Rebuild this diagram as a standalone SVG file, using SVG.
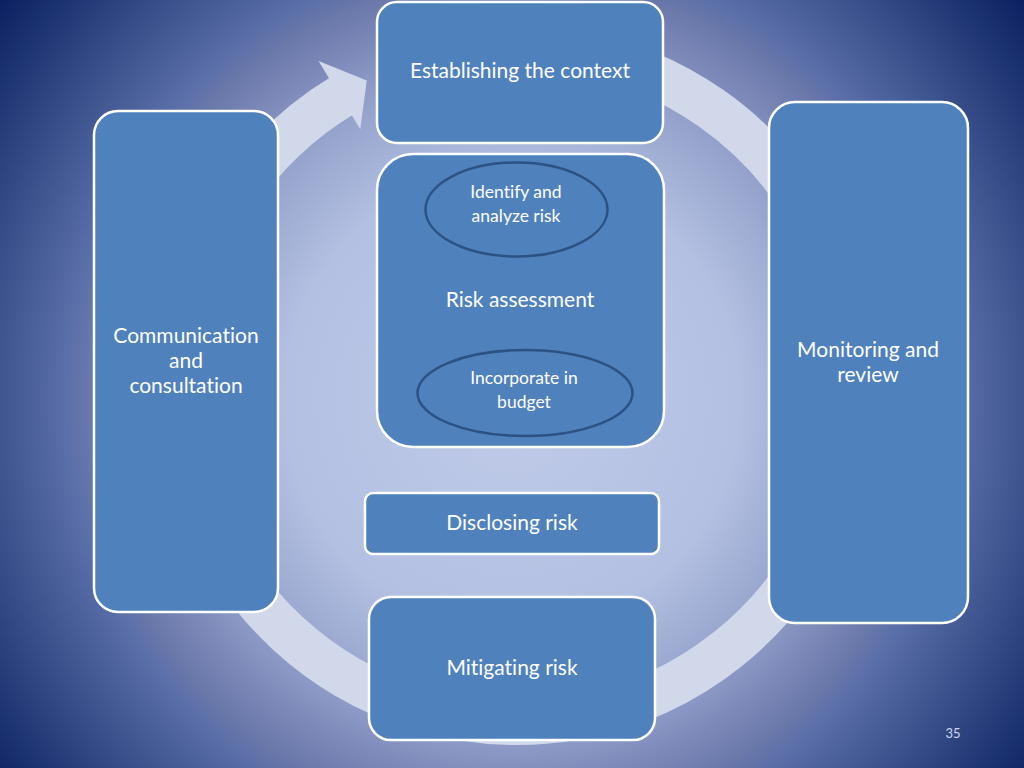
<svg xmlns="http://www.w3.org/2000/svg" width="1024" height="768" viewBox="0 0 1024 768">
  <defs>
    <radialGradient id="bg" gradientUnits="userSpaceOnUse" cx="512" cy="400" r="650">
      <stop offset="0" stop-color="#c0cbe8"/>
      <stop offset="0.35" stop-color="#b3c0e2"/>
      <stop offset="0.5" stop-color="#95a3cc"/>
      <stop offset="0.54" stop-color="#8b97c4"/>
      <stop offset="0.65" stop-color="#6a78aa"/>
      <stop offset="0.69" stop-color="#5a6ea8"/>
      <stop offset="0.79" stop-color="#3e5590"/>
      <stop offset="1" stop-color="#0a2060"/>
    </radialGradient>
    <style>
      .box { fill: #4f81bd; stroke: #ffffff; stroke-width: 2.5; }
      .oval { fill: #4f81bd; stroke: #2c5283; stroke-width: 2.5; }
      .lbl { font-family: Lato, "Liberation Sans", sans-serif; font-size: 21px; fill: #ffffff; text-anchor: middle; font-variant-ligatures: none; }
      .small { font-size: 17.5px; }
      .ring { fill: none; stroke: #d1d8ea; stroke-width: 44; }
      .head { fill: #d1d8ea; }
    </style>
  </defs>

  <rect x="0" y="0" width="1024" height="768" fill="url(#bg)"/>

  <g id="connectors">
    <path class="ring" d="M 575.7 52.1 A 338 338 0 1 1 343.3 95.0"/>
    <polygon class="head" points="318.5,61 366.8,80.6 360.3,129.2"/>
  </g>

  <g id="establishing">
    <rect class="box" x="377" y="2" width="286" height="141" rx="20" ry="20"/>
    <text class="lbl" x="520" y="78">Establishing the context</text>
  </g>

  <g id="risk-assessment">
    <rect class="box" x="377" y="154" width="287" height="293" rx="36" ry="36"/>
    <text class="lbl" x="520" y="307">Risk assessment</text>
  </g>

  <g id="identify">
    <ellipse class="oval" cx="516.5" cy="209.5" rx="91" ry="47"/>
    <text class="lbl small" x="516" y="198">Identify and</text>
    <text class="lbl small" x="516" y="222">analyze risk</text>
  </g>

  <g id="incorporate">
    <ellipse class="oval" cx="525" cy="393" rx="107.5" ry="43"/>
    <text class="lbl small" x="524" y="384">Incorporate in</text>
    <text class="lbl small" x="524" y="408">budget</text>
  </g>

  <g id="disclosing">
    <rect class="box" x="365" y="493" width="294" height="61" rx="8" ry="8"/>
    <text class="lbl" x="512" y="530">Disclosing risk</text>
  </g>

  <g id="mitigating">
    <rect class="box" x="369" y="597" width="286" height="143" rx="22" ry="22"/>
    <text class="lbl" x="512" y="675">Mitigating risk</text>
  </g>

  <g id="communication">
    <rect class="box" x="94" y="111" width="184" height="501" rx="24" ry="24"/>
    <text class="lbl" x="186" y="343">Communication</text>
    <text class="lbl" x="186" y="368">and</text>
    <text class="lbl" x="186" y="393">consultation</text>
  </g>

  <g id="monitoring">
    <rect class="box" x="769" y="102" width="199" height="521" rx="26" ry="26"/>
    <text class="lbl" x="868" y="357">Monitoring and</text>
    <text class="lbl" x="868" y="382">review</text>
  </g>

  <text x="953" y="738" font-family="Lato, 'Liberation Sans', sans-serif" font-size="13" fill="#d0d8ee" text-anchor="middle">35</text>
</svg>
